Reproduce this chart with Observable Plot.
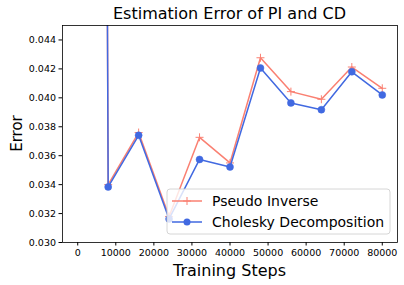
<!DOCTYPE html>
<html>
<head>
<meta charset="utf-8">
<script src="https://cdn.jsdelivr.net/npm/d3@7"></script>
<script src="https://cdn.jsdelivr.net/npm/@observablehq/plot@0.6"></script>
<style>
  html, body { margin: 0; padding: 0; background: #fff; }
  #chart svg { display: block; }
</style>
</head>
<body>
<div id="chart"></div>
<script>
const steps = [0, 8000, 16000, 24000, 32000, 40000, 48000, 56000, 64000, 72000, 80000];
const pseudoInverse = [0.5, 0.0340, 0.0376, 0.0318, 0.03727, 0.0355, 0.04277, 0.04043, 0.0399, 0.04213, 0.04066];
const cholesky = [0.5, 0.03384, 0.03741, 0.03163, 0.03574, 0.03522, 0.04206, 0.03965, 0.03918, 0.0418, 0.0402];
const xTicks = [0, 10000, 20000, 30000, 40000, 50000, 60000, 70000, 80000];
const yTicks = [0.030, 0.032, 0.034, 0.036, 0.038, 0.040, 0.042, 0.044];
const seriesNames = ["Pseudo Inverse", "Cholesky Decomposition"];
const titleText = "Estimation Error of PI and CD";
const xLabel = "Training Steps";
const yLabel = "Error";

const colPI = "#fa8072";
const colCD = "#4169e1";

const piData = steps.map((s, i) => ({x: s, y: pseudoInverse[i]}));
const cdData = steps.map((s, i) => ({x: s, y: cholesky[i]}));

const plusSymbol = {
  draw(ctx, size) {
    const h = Math.sqrt(size / Math.PI);
    ctx.moveTo(-h, 0); ctx.lineTo(h, 0);
    ctx.moveTo(0, -h); ctx.lineTo(0, h);
  }
};

const W = 404, H = 285, ml = 62, mr = 7, mt = 25, mb = 43;

const chart = Plot.plot({
  width: W, height: H,
  marginLeft: ml, marginRight: mr, marginTop: mt, marginBottom: mb,
  style: {fontFamily: "DejaVu Sans", fontSize: "9.5px", background: "#fff", color: "#000"},
  x: {domain: [-4000, 84000]},
  y: {domain: [0.030, 0.045]},
  marks: [
    Plot.line(piData, {x: "x", y: "y", stroke: colPI, strokeWidth: 1.5, clip: true}),
    Plot.dot(piData, {x: "x", y: "y", symbol: plusSymbol, r: 4, stroke: colPI, fill: "none", strokeWidth: 1, clip: true}),
    Plot.line(cdData, {x: "x", y: "y", stroke: colCD, strokeWidth: 1.5, clip: true}),
    Plot.dot(cdData, {x: "x", y: "y", r: 3.5, fill: colCD, stroke: colCD, strokeWidth: 0.5, clip: true}),
    Plot.frame({stroke: "#000", strokeWidth: 0.8}),
    Plot.axisX({ticks: xTicks, tickFormat: d => String(d), tickSize: 3.5, tickPadding: 3.5, label: null}),
    Plot.axisY({ticks: yTicks, tickFormat: d3.format(".3f"), tickSize: 3.5, tickPadding: 3, label: null})
  ]
});
document.getElementById("chart").appendChild(chart);

const svg = d3.select(chart);
const cx = (ml + (W - mr)) / 2;
svg.append("text").attr("x", cx).attr("y", 19).attr("text-anchor", "middle")
  .attr("font-size", 16).attr("fill", "#000").text(titleText);
svg.append("text").attr("x", cx).attr("y", 276).attr("text-anchor", "middle")
  .attr("font-size", 16).attr("fill", "#000").text(xLabel);
svg.append("text").attr("transform", `translate(21.5,${(mt + H - mb) / 2}) rotate(-90)`)
  .attr("text-anchor", "middle").attr("font-size", 15).attr("fill", "#000").text(yLabel);

// legend
const lg = svg.append("g");
lg.append("rect").attr("x", 167).attr("y", 189).attr("width", 223).attr("height", 45)
  .attr("rx", 3).attr("fill", "#fff").attr("fill-opacity", 0.8).attr("stroke", "#cccccc").attr("stroke-width", 0.8);
const rows = [
  {name: seriesNames[0], color: colPI, y: 201, marker: "plus"},
  {name: seriesNames[1], color: colCD, y: 222, marker: "circle"}
];
rows.forEach(r => {
  lg.append("line").attr("x1", 172).attr("x2", 202).attr("y1", r.y).attr("y2", r.y)
    .attr("stroke", r.color).attr("stroke-width", 1.5);
  if (r.marker === "plus") {
    lg.append("path").attr("d", `M183,${r.y}h8M187,${r.y - 4}v8`).attr("stroke", r.color).attr("stroke-width", 1).attr("fill", "none");
  } else {
    lg.append("circle").attr("cx", 187).attr("cy", r.y).attr("r", 3.5).attr("fill", r.color);
  }
  lg.append("text").attr("x", 212).attr("y", r.y).attr("dy", "0.35em").attr("text-anchor", "start")
    .attr("font-size", 14).attr("fill", "#000").text(r.name);
});
</script>
</body>
</html>
